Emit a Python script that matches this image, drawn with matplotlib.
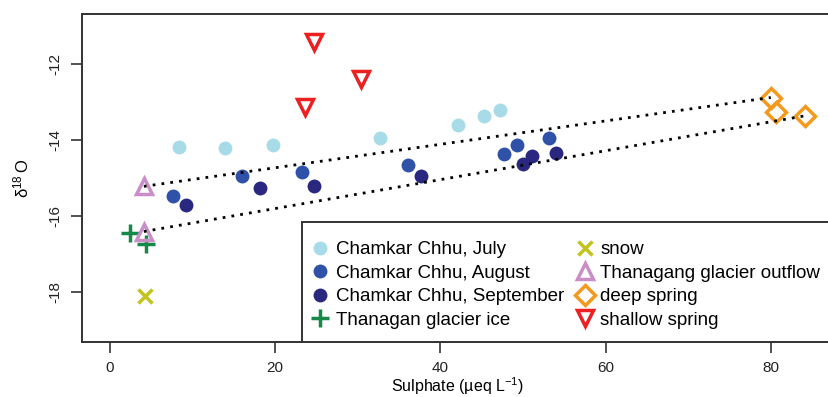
import matplotlib
matplotlib.use("Agg")
import matplotlib.pyplot as plt
from matplotlib.lines import Line2D
from matplotlib.patches import Rectangle

plt.rcParams['font.family'] = ['Liberation Sans', 'DejaVu Sans']
plt.rcParams['mathtext.fontset'] = 'custom'
plt.rcParams['mathtext.rm'] = 'Liberation Sans'
plt.rcParams['mathtext.it'] = 'Liberation Sans:italic'

# Data (Sulphate µeq/L, delta18O)
july_x = [8.35, 13.9, 19.7, 32.7, 42.1, 45.3, 47.2]
july_y = [-14.19, -14.22, -14.12, -13.95, -13.61, -13.37, -13.20]
aug_x = [7.63, 16.0, 23.2, 36.1, 47.7, 49.3, 53.1]
aug_y = [-15.48, -14.96, -14.84, -14.65, -14.37, -14.12, -13.95]
sep_x = [9.24, 18.2, 24.7, 37.7, 49.96, 51.1, 54.0]
sep_y = [-15.70, -15.26, -15.20, -14.95, -14.64, -14.43, -14.33]
ice_x = [2.38, 4.32]
ice_y = [-16.45, -16.74]
snow_x = [4.28]
snow_y = [-18.12]
outflow_x = [4.12, 4.12]
outflow_y = [-15.22, -16.41]
deep_x = [80.0, 80.6, 84.2]
deep_y = [-12.88, -13.27, -13.36]
shallow_x = [24.7, 30.4, 23.6]
shallow_y = [-11.43, -12.38, -13.14]

# mixing lines: outflow -> deep spring
mix1_x = [outflow_x[0], deep_x[0]]
mix1_y = [outflow_y[0], deep_y[0]]
mix2_x = [outflow_x[1], deep_x[2]]
mix2_y = [outflow_y[1], deep_y[2]]

xticks = [0, 20, 40, 60, 80]
yticks = [-18, -16, -14, -12]

c_july = '#a8dbe8'
c_aug = '#2f52a8'
c_sep = '#29287e'
c_ice = '#17884a'
c_snow = '#c3c31e'
c_out = '#c98ec8'
c_deep = '#f39a1e'
c_shal = '#ec2020'

W, H = 829, 397
ax_l, ax_r, ax_t, ax_b = 82, 833.3, 14, 342
fig = plt.figure(figsize=(W/100, H/100), dpi=100)
ax = fig.add_axes([ax_l/W, (H-ax_b)/H, (ax_r-ax_l)/W, (ax_b-ax_t)/H])

ax.set_xlim(-3.37, 87.57)
ax.set_ylim(-19.32, -10.68)

ax.plot(mix1_x, mix1_y, linestyle=(0, (1, 2.2)), color='black', lw=2.0, zorder=5)
ax.plot(mix2_x, mix2_y, linestyle=(0, (1, 2.2)), color='black', lw=2.0, zorder=5)

ms = 10
ax.plot(july_x, july_y, 'o', color=c_july, ms=ms, mec='none', zorder=3)
ax.plot(aug_x, aug_y, 'o', color=c_aug, ms=ms, mec='none', zorder=3)
ax.plot(sep_x, sep_y, 'o', color=c_sep, ms=ms, mec='none', zorder=3)
ax.plot(ice_x, ice_y, '+', color=c_ice, ms=13, mew=2.5, zorder=3)
ax.plot(snow_x, snow_y, 'x', color=c_snow, ms=10, mew=2.5, zorder=3)
ax.plot(outflow_x, outflow_y, '^', mfc='none', mec=c_out, ms=12, mew=2.5, zorder=3)
ax.plot(deep_x, deep_y, 'D', mfc='none', mec=c_deep, ms=10, mew=2.5, zorder=3)
ax.plot(shallow_x, shallow_y, 'v', mfc='none', mec=c_shal, ms=12, mew=2.5, zorder=3)

ax.set_xticks(xticks)
ax.set_yticks(yticks)
ax.set_xticklabels([str(v) for v in xticks])
ax.set_yticklabels([str(v) for v in yticks], rotation=90, va='center')
ax.tick_params(axis='both', length=8, width=1.2, color='#333333', labelsize=11,
               labelcolor='#222222')
ax.tick_params(axis='x', pad=6)
ax.tick_params(axis='y', pad=6)
for s in ax.spines.values():
    s.set_color('#333333')
    s.set_linewidth(1.4)

ax.set_xlabel('Sulphate (µeq L$^{\\mathregular{-1}}$)', fontsize=11.5, labelpad=0)
ax.set_ylabel('$\\mathregular{\\delta^{18}\\,O}$', fontsize=12, labelpad=12)

# legend frame (extends past right edge like the reference)
def to_ax(px, py):
    return (px - ax_l) / (ax_r - ax_l), (ax_b - py) / (ax_b - ax_t)

fx0, fy0 = to_ax(302, 342)
fx1, fy1 = to_ax(900, 222)
frame = Rectangle((fx0, fy0), fx1 - fx0, fy1 - fy0, transform=ax.transAxes,
                  facecolor='white', edgecolor='#333333', lw=1.4, zorder=9,
                  clip_on=False)
ax.add_patch(frame)

handles = [
    Line2D([], [], ls='none', marker='o', color=c_july, ms=ms, mec='none'),
    Line2D([], [], ls='none', marker='o', color=c_aug, ms=ms, mec='none'),
    Line2D([], [], ls='none', marker='o', color=c_sep, ms=ms, mec='none'),
    Line2D([], [], ls='none', marker='+', color=c_ice, ms=13, mew=2.5),
    Line2D([], [], ls='none', marker='x', color=c_snow, ms=10, mew=2.5),
    Line2D([], [], ls='none', marker='^', mfc='none', mec=c_out, ms=12, mew=2.5),
    Line2D([], [], ls='none', marker='D', mfc='none', mec=c_deep, ms=10, mew=2.5),
    Line2D([], [], ls='none', marker='v', mfc='none', mec=c_shal, ms=12, mew=2.5),
]
labels = ['Chamkar Chhu, July', 'Chamkar Chhu, August', 'Chamkar Chhu, September',
          'Thanagan glacier ice', 'snow',
          'Thanagang glacier outflow', 'deep spring', 'shallow spring']
lx, ly = to_ax(313, 241)
leg = ax.legend(handles, labels, ncol=2, loc='upper left',
                bbox_to_anchor=(lx, ly),
                fontsize=13.5, frameon=False, borderpad=0, handlelength=0.75,
                handletextpad=0.45, labelspacing=0.34, columnspacing=0.75,
                borderaxespad=0)
leg.set_zorder(10)

fig.savefig('out.png', dpi=100)
